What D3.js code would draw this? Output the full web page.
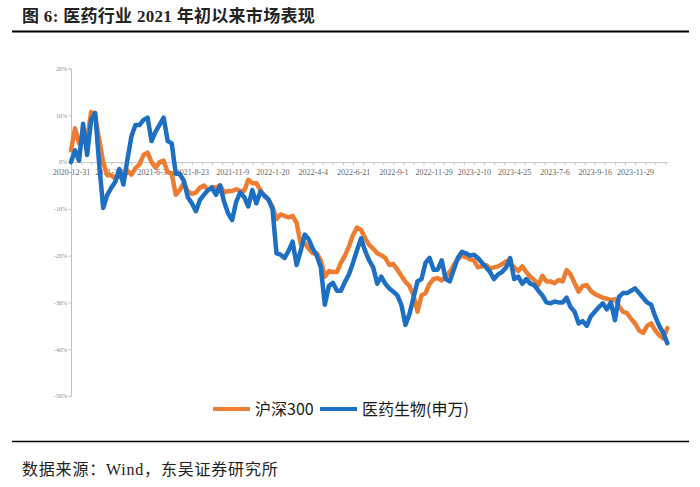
<!DOCTYPE html>
<html><head><meta charset="utf-8">
<script src="https://cdn.jsdelivr.net/npm/d3@7/dist/d3.min.js"></script>
<style>body{margin:0;background:#fff}svg{display:block}</style>
</head><body><svg id="c" width="700" height="487"></svg>
<script>
const dateLabels = ["2020-12-31","2021-3-16","2021-6-3","2021-8-23","2021-11-9","2022-1-20","2022-4-4","2022-6-21","2022-9-1","2022-11-29","2023-2-10","2023-4-25","2023-7-6","2023-9-16","2023-11-29"];
const labelEvery = 10;
const yTicks = [20,10,0,-10,-20,-30,-40,-50];
const seriesNames = ["沪深300","医药生物(申万)"];
const hs300 = [2.5,7.2,4.0,5.8,4.8,10.7,10.0,4.8,0,-2.8,
-2.8,-3.5,-3.0,-3.5,-1.8,-2.7,-1.3,-0.5,1.5,2.0,
0,-1.2,0,0.3,-2.2,-2.4,-7.0,-6.0,-4.5,-6.3,
-6.8,-6.5,-5.5,-5.0,-6.0,-5.3,-5.5,-5.0,-6.5,-6.2,
-6.2,-5.8,-6.2,-6.2,-3.8,-4.5,-4.5,-6.0,-7.2,-8.0,
-9.5,-12.2,-11.2,-11.5,-11.8,-11.5,-13.0,-17.5,-17.3,-18.5,
-19.5,-19.5,-21.0,-24.5,-23.3,-23.5,-23.5,-21.5,-20,-18,
-15.6,-14.0,-14.5,-16.3,-17.7,-18.5,-19.5,-19.9,-20.5,-22,
-21.8,-23,-24.3,-25.6,-26.5,-28.5,-32,-28.5,-28,-26,
-25,-24.8,-25.3,-24.5,-23.5,-22,-20.8,-20,-20.3,-20.8,
-21,-22.5,-22.3,-22,-22.8,-22.5,-22.3,-21.8,-21.2,-21.8,
-22.5,-23.3,-22.3,-23.5,-24.5,-25.2,-26.3,-24.3,-25.5,-25.5,
-25.9,-25.2,-25.5,-23.1,-24,-25.9,-27.7,-26.5,-26.3,-27.5,
-28.2,-28.6,-29,-29.2,-29.5,-29.3,-30.8,-32,-32.3,-33.5,
-34.5,-36,-36.5,-35,-34.5,-36,-37,-37.7,-35.5];
const yiyao = [0,2.5,0.3,8.2,1.5,9.0,10.5,-0.5,-9.8,-7.0,
-5.5,-4.2,-1.5,-4.8,0.5,5.5,7.9,7.9,9.0,9.5,
4.5,6.5,8.0,9.5,4.5,4.0,-2.5,-2.5,-4.0,-7.5,
-8.8,-10.5,-8.1,-7.0,-6.0,-5.5,-7.0,-5.0,-8.5,-11,
-12.4,-8.5,-6.5,-7.5,-9.5,-6.0,-8.8,-6.3,-7.2,-8.0,
-10.0,-19.5,-19.8,-20.5,-19.0,-17.0,-22,-19,-15.5,-16.5,
-18.5,-20.0,-22.5,-30.5,-26.5,-25.8,-27.5,-27.5,-25.6,-24,
-21.5,-18.8,-16.3,-19,-21,-22.5,-26,-24.5,-26,-27,
-27.7,-28.5,-30.5,-34.8,-32.5,-29,-25.5,-25,-21.5,-20.5,
-23,-23,-21,-25,-25.5,-23,-20.5,-19.2,-19.5,-20,
-19.8,-20.5,-21.5,-22.5,-23.5,-25,-24,-23.5,-22.5,-20.5,
-25,-24.5,-26,-25,-26,-26.3,-27.5,-28.5,-30,-30.2,
-29.8,-30,-30,-29,-31,-32,-34.5,-34,-35,-33,
-32,-31,-30.2,-31.5,-30,-33.8,-28.8,-28,-28,-27.5,
-27,-28,-29,-30,-30.5,-33,-35,-36.5,-38.7];
const colors = ["#ED7D31","#1C6FC2"];

const svg = d3.select("#c");
const cjk = "'Liberation Serif','Noto Sans CJK SC',serif";

// title & rules
svg.append("text").attr("x",22).attr("y",22).attr("font-family",cjk).attr("font-weight","bold")
  .attr("font-size",17).attr("letter-spacing",0.3).attr("fill","#222").text("图 6:  医药行业 2021 年初以来市场表现");
svg.append("line").attr("x1",12).attr("x2",689).attr("y1",31.5).attr("y2",31.5).attr("stroke","#000").attr("stroke-width",2.2);
svg.append("line").attr("x1",12).attr("x2",689).attr("y1",441.5).attr("y2",441.5).attr("stroke","#000").attr("stroke-width",1.6);
svg.append("text").attr("x",22).attr("y",475).attr("font-family",cjk)
  .attr("font-size",16).attr("letter-spacing",0.8).attr("fill","#222").text("数据来源：Wind，东吴证券研究所");

const n = hs300.length;
const x = d3.scaleLinear().domain([0, n-1]).range([71, 667.3]);
const y = d3.scaleLinear().domain([20,-50]).range([68.5, 396]);

// y axis
const ya = svg.append("g").attr("transform","translate(71,0)")
  .call(d3.axisLeft(y).tickValues(yTicks).tickSize(2.5).tickPadding(1.5).tickFormat(d=>d+"%"));
ya.select(".domain").attr("stroke","#bfbfbf");
ya.selectAll(".tick line").attr("stroke","#bfbfbf");
ya.selectAll(".tick text").attr("font-family","'Liberation Serif',serif").attr("font-size",6).attr("fill","#8a8a8a");

// x axis at 0%
const minor = d3.range(0, n, 2.5);
const xa = svg.append("g").attr("transform",`translate(0,${y(0)})`)
  .call(d3.axisBottom(x).tickValues(minor).tickSize(3).tickSizeOuter(0).tickFormat(""));
xa.select(".domain").attr("stroke","#c8c8c8");
xa.selectAll(".tick line").attr("stroke","#c8c8c8");
const xl = svg.append("g").attr("transform",`translate(0,${y(0)})`)
  .call(d3.axisBottom(x).tickValues(dateLabels.map((d,i)=>i*labelEvery)).tickSize(0).tickPadding(7)
  .tickFormat((d,i)=>dateLabels[i]));
xl.select(".domain").remove();
xl.selectAll(".tick text").attr("font-family","'Liberation Serif',serif").attr("font-size",8).attr("fill","#666");

// lines
const line = d3.line().x((d,i)=>x(i)).y(d=>y(d)).curve(d3.curveLinear);
[hs300, yiyao].forEach((s,k)=>{
  svg.append("path").datum(s).attr("d",line).attr("fill","none").attr("stroke",colors[k])
    .attr("stroke-width",4.5).attr("stroke-linejoin","round").attr("stroke-linecap","round");
});

// legend
const lg = svg.append("g");
const legendPos = [[213,255],[320,362]];
seriesNames.forEach((nm,k)=>{
  lg.append("line").attr("x1",legendPos[k][0]).attr("x2",legendPos[k][0]+37).attr("y1",409).attr("y2",409)
    .attr("stroke",colors[k]).attr("stroke-width",4);
  lg.append("text").attr("x",legendPos[k][1]).attr("y",409).attr("dy","0.35em").attr("font-family","'Noto Sans CJK SC',sans-serif")
    .attr("font-size",16).attr("fill","#1a1a1a").text(nm);
});
</script></body></html>
